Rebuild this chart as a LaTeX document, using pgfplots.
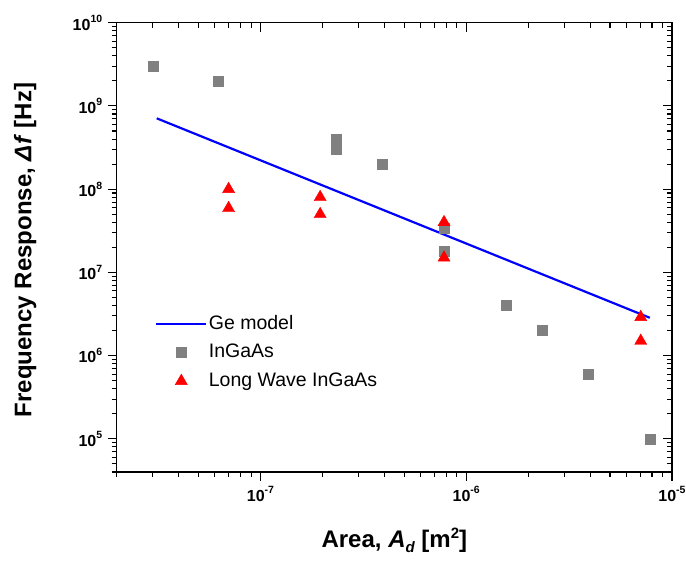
\documentclass[border=0pt]{standalone}
\usepackage{fontspec}
\setmainfont{Liberation Sans}
\usepackage{pgfplots}
\pgfplotsset{compat=1.18}
\newcommand{\tl}[1]{{\fontsize{16}{16}\selectfont\bfseries 10\raisebox{7.5pt}{\fontsize{10.5}{10.5}\selectfont\bfseries #1}}}

\begin{document}
\begin{tikzpicture}
\useasboundingbox (-116.7pt,-90pt) rectangle (569.3pt,472pt);
\begin{loglogaxis}[
  scale only axis, width=555.3pt, height=449.3pt,
  xmin=2e-8, xmax=1e-5, ymin=4e4, ymax=1e10,
  axis line style={line width=1.3pt},
  tick style={line width=1.1pt, black},
  major tick length=9pt, minor tick length=5pt,
  xtick={1e-8,1e-7,1e-6,1e-5},
  ytick={1e4,1e5,1e6,1e7,1e8,1e9,1e10},
  tick align=outside,
  xtick pos=bottom, ytick pos=left,
  xticklabels={\tl{-8},\tl{-7},\tl{-6},\tl{-5}},
  yticklabels={\tl{4},\tl{5},\tl{6},\tl{7},\tl{8},\tl{9},\tl{10}},
  xticklabel style={yshift=-2pt},
  yticklabel style={xshift=-2pt},
  xlabel={\textbf{Area, \textit{A}\raisebox{-5pt}{\fontsize{15}{15}\selectfont\bfseries\itshape d} [m\raisebox{9pt}{\fontsize{15}{15}\selectfont\bfseries 2}]}},
  ylabel={\textbf{Frequency Response, \textit{Δf} [Hz]}},
  label style={font=\bfseries\fontsize{24}{24}\selectfont},
  xlabel style={at={(axis description cs:0.5,-0.169)}, anchor=base},
  ylabel style={at={(axis description cs:-0.165,0.494)}, anchor=center},
  legend image code/.code={\draw[mark repeat=2,mark phase=2,#1] plot coordinates {(0pt,0pt) (25pt,0pt) (50pt,0pt)};},
  legend style={draw=none, fill=none, inner sep=0pt,
    at={(axis description cs:0.069,0.353)}, anchor=north west,
    font=\fontsize{19.5}{20}\selectfont,
    nodes={inner sep=1.5pt, text height=14pt, text depth=4pt},
    row sep=7.5pt},
  legend cell align=left,
]
\addplot[blue, line width=2.2pt] coordinates {(3.13e-8,7.1e8) (7.8e-6,2.85e6)};
\addlegendentry{Ge model}
\addplot[only marks, mark=square*, mark size=5pt, color=gray] coordinates {
  (3.0e-8,3.0e9) (6.2e-8,2.0e9) (2.34e-7,4.0e8) (2.34e-7,3.0e8) (3.9e-7,2.0e8)
  (7.8e-7,3.4e7) (7.8e-7,1.8e7) (1.56e-6,4.0e6) (2.34e-6,2.0e6) (3.9e-6,6.0e5)
  (7.8e-6,1.0e5)};
\addlegendentry{InGaAs}
\addplot[only marks, mark=triangle*, mark size=7pt, color=red] coordinates {
  (7.0e-8,1.0e8) (7.0e-8,5.9e7) (1.95e-7,8.0e7) (1.95e-7,5.0e7)
  (7.8e-7,4.0e7) (7.8e-7,1.5e7) (7.05e-6,2.9e6) (7.05e-6,1.5e6)};
\addlegendentry{Long Wave InGaAs}
\end{loglogaxis}
\begin{loglogaxis}[
  scale only axis, width=555.3pt, height=449.3pt,
  xmin=2e-8, xmax=1e-5, ymin=4e4, ymax=1e10,
  axis line style={line width=1.3pt},
  tick style={line width=1.1pt, black},
  major tick length=9pt, minor tick length=5pt,
  xtick={1e-8,1e-7,1e-6,1e-5},
  ytick={1e4,1e5,1e6,1e7,1e8,1e9,1e10},
  tick align=inside,
  xtick pos=top, ytick pos=right,
  xticklabels={}, yticklabels={},
]
\end{loglogaxis}
\end{tikzpicture}
\end{document}
